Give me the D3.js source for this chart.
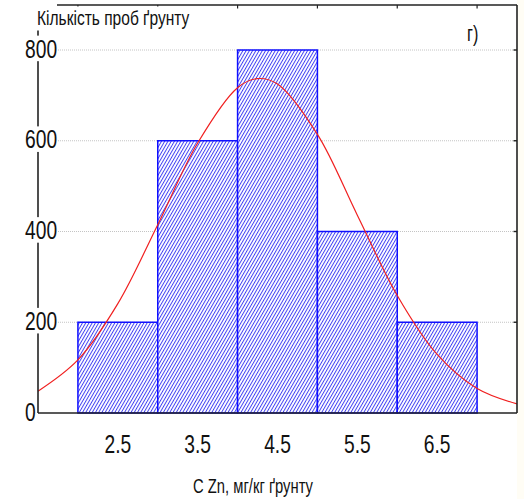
<!DOCTYPE html>
<html>
<head>
<meta charset="utf-8">
<script src="https://cdn.jsdelivr.net/npm/d3@7"></script>
<style>
  body { margin: 0; background: #fffdf5; }
  text { font-family: "Liberation Sans", Arial, sans-serif; fill: #111; }
</style>
</head>
<body>
<div id="chart"></div>
<script>
// histogram bins (centre values) and counts
var binCenters = [2.5, 3.5, 4.5, 5.5, 6.5]
var binCounts = [200, 600, 800, 400, 200]
var yTicks = [0, 200, 400, 600, 800]
var xTickLabels = ['2.5', '3.5', '4.5', '5.5', '6.5']
// fitted normal curve
var curveX = [1.5, 2.0, 2.5, 3.0, 3.5, 4.0, 4.25, 4.5, 5.0, 5.5, 6.0, 6.5, 7.0, 7.5]
var curveY = [48, 117, 241, 415, 595, 717, 737, 725, 614, 436, 259, 129, 54, 20]

var W = 524, H = 499
var NARROW = 0.74 // the original uses a condensed face
var svg = d3.select('#chart').append('svg')
    .attr('width', W)
    .attr('height', H)

var x = d3.scaleLinear().domain([1.5, 7.5]).range([38, 517])
var y = d3.scaleLinear().domain([0, 800]).range([413, 50])

var defs = svg.append('defs')
var pat = defs.append('pattern')
    .attr('id', 'hatch')
    .attr('patternUnits', 'userSpaceOnUse')
    .attr('width', 2.8)
    .attr('height', 10)
    .attr('patternTransform', 'rotate(30)')
pat.append('rect').attr('width', 2.8).attr('height', 10).attr('fill', '#ffffff')
pat.append('line')
    .attr('x1', 0.5).attr('x2', 0.5).attr('y1', 0).attr('y2', 10)
    .attr('stroke', '#3c3cf4').attr('stroke-width', 0.95)

// white plot area
svg.append('rect')
    .attr('x', 0).attr('y', 0)
    .attr('width', x.range()[1]).attr('height', H)
    .attr('fill', '#ffffff')

// dotted gridlines
svg.append('g').selectAll('line')
    .data(yTicks.filter(d => d > 0))
    .join('line')
    .attr('x1', x(1.5)).attr('x2', x(7.5))
    .attr('y1', d => y(d)).attr('y2', d => y(d))
    .attr('stroke', '#c4c4c4')
    .attr('stroke-dasharray', '1,1')

// bars
svg.append('g').selectAll('rect')
    .data(binCenters)
    .join('rect')
    .attr('x', d => x(d - 0.5))
    .attr('width', d => x(d + 0.5) - x(d - 0.5))
    .attr('y', (d, i) => y(binCounts[i]))
    .attr('height', (d, i) => y(0) - y(binCounts[i]))
    .attr('fill', 'url(#hatch)')
    .attr('stroke', '#1010ff')
    .attr('stroke-width', 1.5)

// normal curve
var line = d3.line()
    .x((d, i) => x(curveX[i]))
    .y(d => y(d))
    .curve(d3.curveCatmullRom)
svg.append('path')
    .datum(curveY)
    .attr('d', line)
    .attr('fill', 'none')
    .attr('stroke', '#f02020')
    .attr('stroke-width', 1.2)

// frame
var axisCol = '#222'
svg.append('line') // bottom
    .attr('x1', x(1.5)).attr('x2', x(7.5))
    .attr('y1', y(0)).attr('y2', y(0))
    .attr('stroke', axisCol).attr('stroke-width', 1.6)
svg.append('line') // right
    .attr('x1', x(7.5)).attr('x2', x(7.5))
    .attr('y1', 5).attr('y2', y(0))
    .attr('stroke', axisCol).attr('stroke-width', 1.6)
svg.append('line') // top
    .attr('x1', 57).attr('x2', x(7.5))
    .attr('y1', 5).attr('y2', 5)
    .attr('stroke', axisCol).attr('stroke-width', 1.6)
svg.append('line') // left
    .attr('x1', x(1.5)).attr('x2', x(1.5))
    .attr('y1', 30).attr('y2', y(0))
    .attr('stroke', axisCol).attr('stroke-width', 1.6)

// small ticks on top and right borders
svg.append('g').selectAll('line')
    .data([2, 3, 4, 5, 6, 7])
    .join('line')
    .attr('x1', d => x(d)).attr('x2', d => x(d))
    .attr('y1', 5).attr('y2', 8.5)
    .attr('stroke', axisCol).attr('stroke-width', 1.2)
svg.append('g').selectAll('line')
    .data(yTicks.filter(d => d > 0))
    .join('line')
    .attr('x1', x(7.5) - 3.5).attr('x2', x(7.5))
    .attr('y1', d => y(d)).attr('y2', d => y(d))
    .attr('stroke', axisCol).attr('stroke-width', 1.4)

// helper: condensed text placed at (tx, ty)
var narrowText = (parent, tx, ty, size, str, anchor) => {
    var g = parent.append('g')
        .attr('transform', 'translate(' + tx + ',' + ty + ') scale(' + NARROW + ',1)')
    g.append('text')
        .attr('text-anchor', anchor || 'start')
        .style('font-size', size + 'px')
        .text(str)
    return g
}

// y title with white backing (hides top-left ticks)
svg.append('rect')
    .attr('x', 30).attr('y', 6.5).attr('width', 162).attr('height', 24)
    .attr('fill', '#ffffff')
narrowText(svg, 37, 25, 21, 'Кількість проб ґрунту')

// y tick labels, drawn over the axis line on white
yTicks.forEach(d => {
    var g = narrowText(svg, 25, y(d) + 7.5, 26, d)
    var bb = g.select('text').node().getBBox()
    g.insert('rect', 'text')
        .attr('x', bb.x - 1).attr('y', bb.y + 2)
        .attr('width', bb.width + 2).attr('height', bb.height - 4)
        .attr('fill', '#ffffff')
})

// x tick labels
binCenters.forEach((d, i) => {
    narrowText(svg, x(d), 453, 26, xTickLabels[i], 'middle')
})

// x title
narrowText(svg, 253, 493, 20, 'C Zn, мг/кг ґрунту', 'middle')

// panel letter
narrowText(svg, 467, 41, 22, 'г)')
</script>
</body>
</html>
